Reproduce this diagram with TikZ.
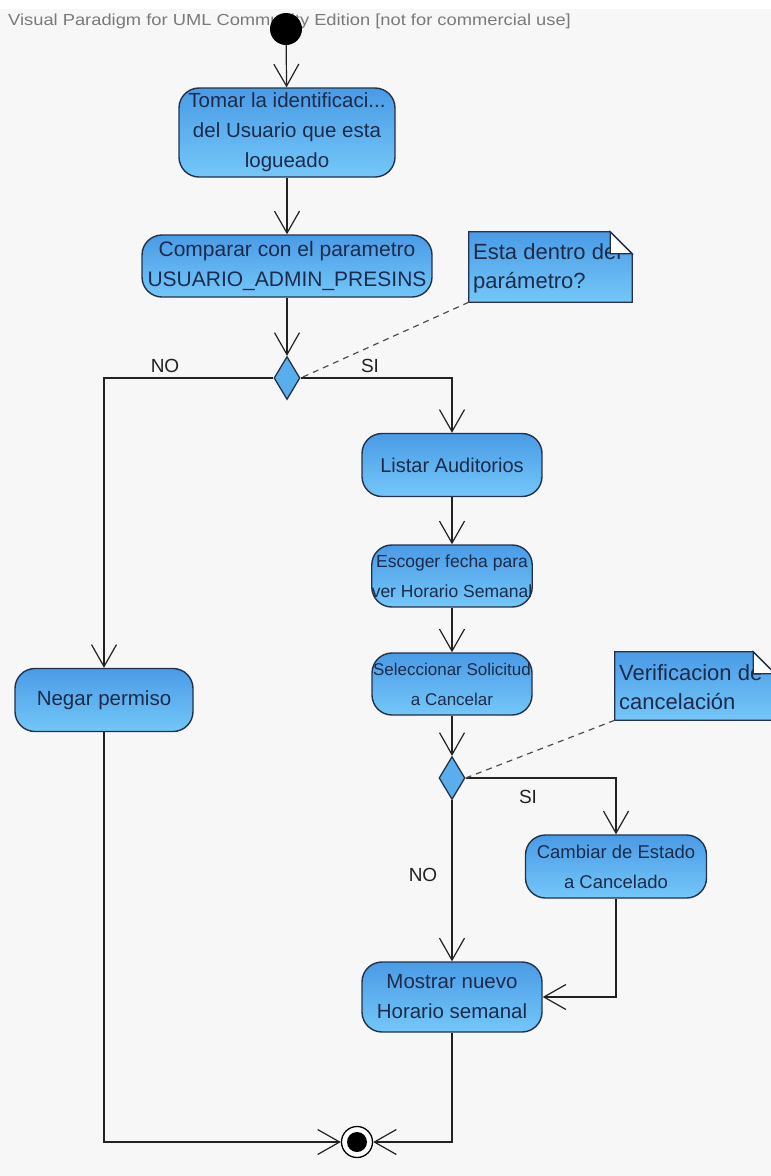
\documentclass[tikz,border=0pt]{standalone}
\usepackage{fontspec}
\setmainfont{Liberation Sans}
\usetikzlibrary{arrows.meta,shapes.geometric,calc}
\definecolor{bg}{HTML}{F7F7F7}
\definecolor{edge}{HTML}{23324A}
\definecolor{ink}{HTML}{1C2B4B}
\definecolor{ftop}{HTML}{4A9BE6}
\definecolor{fbot}{HTML}{74C7F8}
\definecolor{dfill}{HTML}{5AAEEB}
\definecolor{hdr}{HTML}{7A7A7A}
\definecolor{wire}{HTML}{222222}
\newcommand\fsz[1]{\fontsize{#1}{30}\selectfont}
\begin{document}
\begin{tikzpicture}[x=1pt,y=-1pt,
  act/.style={rectangle, rounded corners=20pt, draw=edge, line width=1.4pt,
    top color=ftop, bottom color=fbot, text=ink,
    font=\fsz{20}, align=center, inner sep=0pt},
  choice/.style={diamond, draw=edge, line width=1.3pt, fill=dfill,
    minimum width=26pt, minimum height=43pt, inner sep=0pt},
  notebox/.style={rectangle, draw=none, inner sep=0pt},
  notetext/.style={text=ink, font=\fontsize{22}{29}\selectfont, align=left, inner sep=0pt},
  flow/.style={draw=wire, line width=1.2pt, -{Straight Barb[length=22pt,width=25pt,line width=1.2pt]}},
  link/.style={draw=wire!80, line width=1.2pt, dash pattern=on 6pt off 5pt},
  guard/.style={text=wire, font=\fontsize{19}{22}\selectfont, inner sep=0pt},
]
% canvas
\useasboundingbox (0,0) rectangle (771,1176);
\fill[bg] (0,0) rectangle (771,1176);
\fill[white] (0,0) rectangle (771,9);
\node[anchor=west, text=hdr, font=\fontsize{16}{18}\selectfont, inner sep=0pt] (hdr) at (8,21)
  {\scalebox{1.145}[1]{Visual Paradigm for UML Community Edition [not for commercial use]}};

% start / end
\node[circle, fill=black, minimum size=32pt, inner sep=0pt] (start) at (286,29) {};
\node[circle, draw=black, fill=white, line width=1.3pt, minimum size=31pt, inner sep=0pt] (fin) at (357,1142) {};
\fill[black] (fin.center) circle (10pt);

% actions
\node[act, font=\fsz{20.5}, minimum width=216pt, minimum height=89pt] (tomar) at (287,132.5)
  {Tomar la identificaci...\\del Usuario que esta\\logueado};
\node[act, font=\fsz{21}, minimum width=290pt, minimum height=62pt] (comparar) at (287,266)
  {Comparar con el parametro\\USUARIO\_ADMIN\_PRESINS};
\node[act, font=\fsz{20.5}, minimum width=178pt, minimum height=63pt] (negar) at (104,700)
  {Negar permiso};
\node[act, minimum width=180pt, minimum height=63pt] (listar) at (452,465)
  {Listar Auditorios};
\node[act, font=\fsz{17.5}, minimum width=160pt, minimum height=62pt] (escoger) at (452,576)
  {Escoger fecha para\\ver Horario Semanal};
\node[act, font=\fsz{17}, minimum width=160pt, minimum height=62pt] (selecc) at (452,684)
  {Seleccionar Solicitud\\a Cancelar};
\node[act, font=\fsz{18.5}, minimum width=181pt, minimum height=63pt] (cambiar) at (616,866.5)
  {Cambiar de Estado\\a Cancelado};
\node[act, font=\fsz{20.5}, minimum width=180pt, minimum height=70pt] (mostrar) at (452,997)
  {Mostrar nuevo\\Horario semanal};

% decisions
\node[choice] (d1) at (287,378) {};
\node[choice] (d2) at (452,778) {};

% notes
\node[notebox, minimum width=163pt, minimum height=70pt] (n1) at (550.5,267) {};
\path[draw=edge, line width=1.3pt, top color=ftop, bottom color=fbot]
  (n1.north west) -- ($(n1.north east)+(-22,0)$) -- ($(n1.north east)+(0,22)$)
  -- (n1.south east) -- (n1.south west) -- cycle;
\node[notetext, anchor=west] (t1) at (473,268) {Esta dentro del\\parámetro?};
\path[draw=edge, line width=1.3pt, fill=white]
  ($(n1.north east)+(-22,0)$) -- ($(n1.north east)+(-22,22)$) -- ($(n1.north east)+(0,22)$) -- cycle;

\node[notebox, minimum width=160pt, minimum height=68pt] (n2) at (695,686) {};
\path[draw=edge, line width=1.3pt, top color=ftop, bottom color=fbot]
  (n2.north west) -- ($(n2.north east)+(-22,0)$) -- ($(n2.north east)+(0,22)$)
  -- (n2.south east) -- (n2.south west) -- cycle;
\node[notetext, anchor=west] (t2) at (619,687) {Verificacion de\\cancelación};
\path[draw=edge, line width=1.3pt, fill=white]
  ($(n2.north east)+(-22,0)$) -- ($(n2.north east)+(-22,22)$) -- ($(n2.north east)+(0,22)$) -- cycle;

% control flow
\draw[flow] (start) -- (tomar);
\draw[flow] (tomar) -- (comparar);
\draw[flow] (comparar) -- (d1);
\draw[flow] (d1.west) -| (negar.north);
\draw[flow] (d1.east) -| (listar.north);
\draw[flow] (listar) -- (escoger);
\draw[flow] (escoger) -- (selecc);
\draw[flow] (selecc) -- (d2);
\draw[flow] (d2.east) -| (cambiar.north);
\draw[flow] (d2.south) -- (mostrar.north);
\draw[flow] (cambiar.south) |- (mostrar.east);
\draw[flow] (mostrar.south) |- (fin.east);
\draw[flow] (negar.south) |- (fin.west);

% guards
\node[guard] (no1) at (165,366) {NO};
\node[guard] (si1) at (370,366) {SI};
\node[guard] (si2) at (528,797) {SI};
\node[guard] (no2) at (423,875) {NO};

% note anchors
\draw[link] (n1.south west) -- (d1.east);
\draw[link] (n2.south west) -- (d2.east);
\end{tikzpicture}
\end{document}
